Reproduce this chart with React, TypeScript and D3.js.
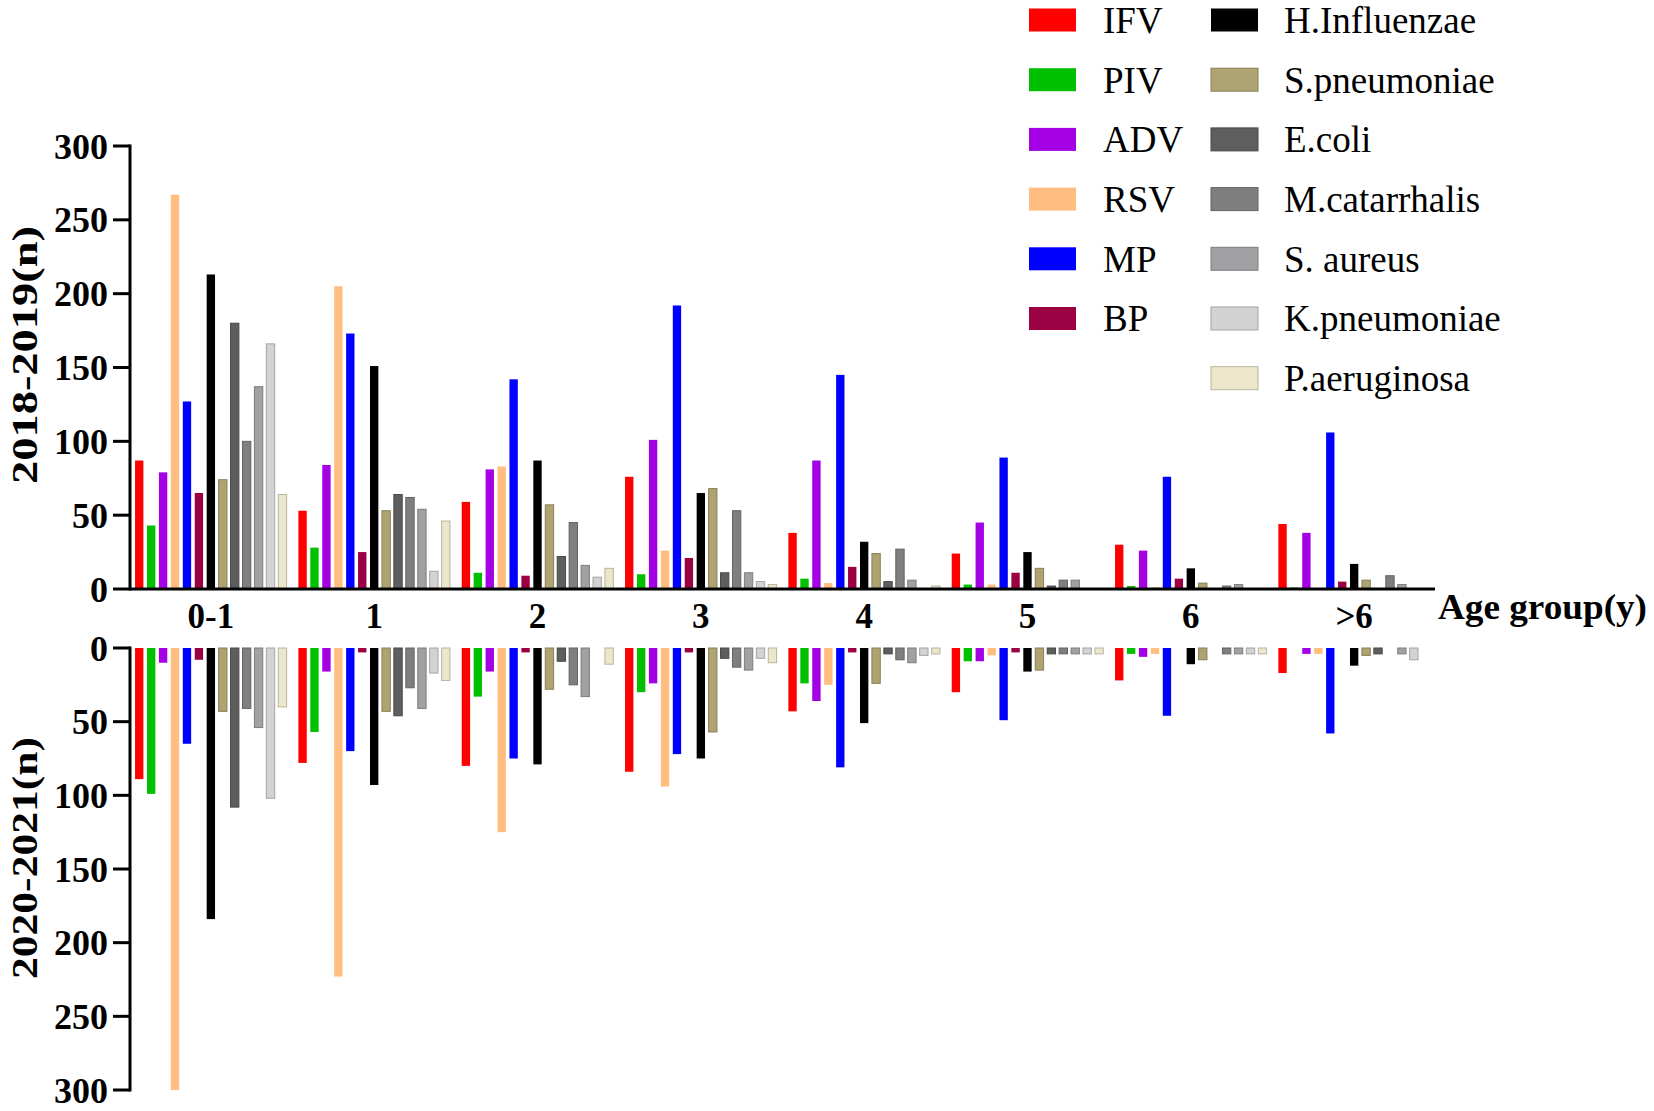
import * as d3 from "d3";
import React from "react";

// age groups on the x axis
const ageGroups = ["0-1", "1", "2", "3", "4", "5", "6", ">6"];

const pathogens = [
  "IFV", "PIV", "ADV", "RSV", "MP", "BP",
  "H.Influenzae", "S.pneumoniae", "E.coli", "M.catarrhalis",
  "S. aureus", "K.pneumoniae", "P.aeruginosa",
];

const colors = [
  "#ff0000", "#00c000", "#a400e4", "#ffbe80", "#0000ff", "#9a0042",
  "#000000", "#afa471", "#5e5e5e", "#7f7f7f", "#a1a1a4", "#d3d3d3", "#ece6cb",
];

// 2018-2019 counts, one row per pathogen, one value per age group
const counts2018 = [
  [87, 53, 59, 76, 38, 24, 30, 44], // IFV
  [43, 28, 11, 10, 7, 3, 2, 1], // PIV
  [79, 84, 81, 101, 87, 45, 26, 38], // ADV
  [267, 205, 83, 26, 4, 3, 1, 0], // RSV
  [127, 173, 142, 192, 145, 89, 76, 106], // MP
  [65, 25, 9, 21, 15, 11, 7, 5], // BP
  [213, 151, 87, 65, 32, 25, 14, 17], // H.Influenzae
  [74, 53, 57, 68, 24, 14, 4, 6], // S.pneumoniae
  [180, 64, 22, 11, 5, 2, 0, 0], // E.coli
  [100, 62, 45, 53, 27, 6, 2, 9], // M.catarrhalis
  [137, 54, 16, 11, 6, 6, 3, 3], // S. aureus
  [166, 12, 8, 5, 0, 0, 0, 0], // K.pneumoniae
  [64, 46, 14, 3, 2, 0, 0, 0], // P.aeruginosa
];

// 2020-2021 counts (drawn downwards)
const counts2020 = [
  [89, 78, 80, 84, 43, 30, 22, 17], // IFV
  [99, 57, 33, 30, 24, 9, 4, 0], // PIV
  [10, 16, 16, 24, 36, 9, 6, 4], // ADV
  [300, 223, 125, 94, 25, 5, 4, 4], // RSV
  [65, 70, 75, 72, 81, 49, 46, 58], // MP
  [8, 3, 3, 3, 3, 3, 0, 0], // BP
  [184, 93, 79, 75, 51, 16, 11, 12], // H.Influenzae
  [43, 43, 28, 57, 24, 15, 8, 5], // S.pneumoniae
  [108, 46, 9, 7, 4, 4, 0, 4], // E.coli
  [41, 27, 25, 13, 8, 4, 4, 0], // M.catarrhalis
  [54, 41, 33, 15, 10, 4, 4, 4], // S. aureus
  [102, 17, 0, 7, 5, 4, 4, 8], // K.pneumoniae
  [40, 22, 11, 10, 4, 4, 4, 0], // P.aeruginosa
];

const yTicks = [0, 50, 100, 150, 200, 250, 300];

const W = 1654;
const H = 1111;
const FONT = "'Liberation Serif', 'Times New Roman', serif";

const App: React.FC = () => {
  const axisX = 130;
  const axisEnd = 1435;

  const x0 = d3
    .scaleBand<string>()
    .domain(ageGroups)
    .range([axisX, axisEnd])
    .paddingInner(0.05)
    .paddingOuter(0.02);

  const x1 = d3
    .scaleBand<string>()
    .domain(pathogens)
    .range([0, x0.bandwidth()])
    .paddingInner(0.3)
    .paddingOuter(0.15);

  const yTop = d3.scaleLinear().domain([0, 300]).range([589, 146]);
  const yBot = d3.scaleLinear().domain([0, 300]).range([648, 1090]);

  const strokeFor = (c: string, i: number) =>
    i >= 7 ? d3.color(c)!.darker(0.7).formatHex() : c;

  const bars = (counts: number[][], y: d3.ScaleLinear<number, number>) =>
    counts.flatMap((row, si) =>
      row.map((v, gi) => {
        if (v <= 0) return null;
        const x = x0(ageGroups[gi])! + x1(pathogens[si])!;
        const a = y(0);
        const b = y(v);
        return (
          <rect
            key={`${si}-${gi}`}
            x={x}
            y={Math.min(a, b)}
            width={x1.bandwidth()}
            height={Math.abs(b - a)}
            fill={colors[si]}
            stroke={strokeFor(colors[si], si)}
            strokeWidth={si >= 7 ? 1 : 0}
          />
        );
      })
    );

  const yAxis = (y: d3.ScaleLinear<number, number>) => (
    <g>
      <line
        x1={axisX}
        x2={axisX}
        y1={Math.min(y(0), y(300)) - 1.5}
        y2={Math.max(y(0), y(300)) + 1.5}
        stroke="#000"
        strokeWidth={3}
      />
      {yTicks.map((t) => (
        <g key={t}>
          <line x1={113} x2={axisX} y1={y(t)} y2={y(t)} stroke="#000" strokeWidth={3} />
          <text
            x={108}
            y={y(t)}
            dy="0.35em"
            textAnchor="end"
            fontSize={36}
            fontWeight="bold"
            fontFamily={FONT}
          >
            {t}
          </text>
        </g>
      ))}
    </g>
  );

  const legendRow = (i: number) => 20 + i * 59.7;

  return (
    <svg
      width={W}
      height={H}
      style={{ position: "absolute", left: 0, top: 0, background: "#fff" }}
    >
      <rect width={W} height={H} fill="#fff" />
      {bars(counts2018, yTop)}
      {bars(counts2020, yBot)}

      {/* top x axis */}
      <line x1={axisX} x2={axisEnd} y1={yTop(0)} y2={yTop(0)} stroke="#000" strokeWidth={3} />
      {yAxis(yTop)}
      {yAxis(yBot)}

      {ageGroups.map((g) => (
        <text
          key={g}
          x={x0(g)! + x0.bandwidth() / 2}
          y={628}
          textAnchor="middle"
          fontSize={35}
          fontWeight="bold"
          fontFamily={FONT}
        >
          {g}
        </text>
      ))}
      <text
        x={1438}
        y={619}
        fontSize={36}
        fontWeight="bold"
        fontFamily={FONT}
        textLength={209}
        lengthAdjust="spacingAndGlyphs"
      >
        Age group(y)
      </text>

      <text
        transform="translate(37,355) rotate(-90)"
        textAnchor="middle"
        fontSize={36}
        fontWeight="bold"
        fontFamily={FONT}
        textLength={258}
        lengthAdjust="spacingAndGlyphs"
      >
        2018-2019(n)
      </text>
      <text
        transform="translate(37,858) rotate(-90)"
        textAnchor="middle"
        fontSize={36}
        fontWeight="bold"
        fontFamily={FONT}
        textLength={242}
        lengthAdjust="spacingAndGlyphs"
      >
        2020-2021(n)
      </text>

      {/* legend, two columns */}
      {pathogens.map((p, i) => {
        const col = i < 6 ? 0 : 1;
        const row = col === 0 ? i : i - 6;
        const sx = col === 0 ? 1029 : 1211;
        const tx = col === 0 ? 1103 : 1284;
        const cy = legendRow(row);
        return (
          <g key={p}>
            <rect
              x={sx}
              y={cy - 11.5}
              width={47}
              height={23}
              fill={colors[i]}
              stroke={strokeFor(colors[i], i)}
              strokeWidth={i >= 7 ? 1 : 0}
            />
            <text
              x={tx}
              y={cy}
              dy="0.35em"
              fontSize={37}
              fontFamily={FONT}
            >
              {p}
            </text>
          </g>
        );
      })}
    </svg>
  );
};

export default App;
